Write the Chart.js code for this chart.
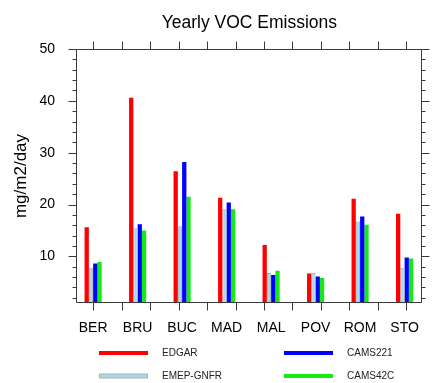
<!DOCTYPE html>
<html>
<head>
<meta charset="utf-8">
<script src="https://cdn.jsdelivr.net/npm/chart.js@4/dist/chart.umd.min.js"></script>
<style>
  html, body { margin: 0; padding: 0; background: #ffffff; }
  #wrap { width: 436px; height: 383px; }
</style>
</head>
<body>
<div id="wrap"><canvas id="chart" width="436" height="383"></canvas></div>
<script>
// Station sites
const categories = ['BER', 'BRU', 'BUC', 'MAD', 'MAL', 'POV', 'ROM', 'STO'];

// Yearly VOC emissions per inventory (mg/m2/day)
const edgar    = [15.6, 40.6, 26.4, 21.3, 12.2, 6.7, 21.1, 18.2];
const emepGnfr = [7.8, 15.4, 15.8, 19.1, 6.8, 6.8, 16.7, 7.8];
const cams221  = [8.6, 16.2, 28.2, 20.4, 6.4, 6.1, 17.7, 9.8];
const cams42c  = [8.9, 15.0, 21.5, 19.1, 7.2, 5.8, 16.1, 9.6];

// Axis ticks
const yTickValues = [10, 20, 30, 40, 50];
const yMinorValues = [2, 4, 6, 8, 12, 14, 16, 18, 22, 24, 26, 28, 32, 34, 36, 38, 42, 44, 46, 48];
const xTickValues = [0, 0.64, 1.28, 1.92, 2.56, 3.2, 3.84, 4.48, 5.12, 5.76, 6.4, 7.04];

const FONT = '"Liberation Sans", Arial, Helvetica, sans-serif';
Chart.defaults.font.family = FONT;
Chart.defaults.color = '#000000';

const seriesList = [
  { label: 'EDGAR',     values: edgar,    color: '#ff0000', edge: 'rgba(255,0,0,0)' },
  { label: 'EMEP-GNFR', values: emepGnfr, color: '#add8e6', edge: '#a3b4ba' },
  { label: 'CAMS221',   values: cams221,  color: '#0000ff', edge: 'rgba(0,0,255,0)' },
  { label: 'CAMS42C',   values: cams42c,  color: '#14eb14', edge: 'rgba(0,0,0,0)' }
];

const datasets = seriesList.map(s => ({
  label: s.label,
  data: s.values.map((v, i) => ({ x: i, y: v })),
  backgroundColor: s.color,
  borderColor: s.edge,
  borderWidth: s.label === 'EMEP-GNFR' ? 1 : 0,
  categoryPercentage: 0.385,
  barPercentage: 1.0
}));

// Title above the plot
const titlePlugin = {
  id: 'plotTitle',
  afterDraw(chart) {
    const { ctx, chartArea } = chart;
    ctx.save();
    ctx.font = '17.5px ' + FONT;
    ctx.fillStyle = '#000';
    ctx.textAlign = 'center';
    ctx.textBaseline = 'alphabetic';
    ctx.fillText('Yearly VOC Emissions', (chartArea.left + chartArea.right) / 2 + 0.5, 27.5);
    ctx.restore();
  }
};

// Box frame with outward tick marks on all four sides
const framePlugin = {
  id: 'frameTicks',
  afterDatasetsDraw(chart) {
    const { ctx, chartArea, scales } = chart;
    const L = Math.round(chartArea.left) + 0.5;
    const R = Math.round(chartArea.right) - 0.5;
    const T = Math.round(chartArea.top) + 0.5;
    const B = Math.round(chartArea.bottom) - 0.5;
    ctx.save();
    ctx.strokeStyle = '#3a3a3a';
    ctx.lineWidth = 1;
    ctx.beginPath();
    ctx.rect(L, T, R - L, B - T);
    // y major ticks
    yTickValues.forEach(v => {
      const y = Math.round(scales.y.getPixelForValue(v)) + 0.5;
      ctx.moveTo(L, y); ctx.lineTo(L - 8, y);
      ctx.moveTo(R, y); ctx.lineTo(R + 8, y);
    });
    // y minor ticks
    yMinorValues.forEach(v => {
      const y = Math.round(scales.y.getPixelForValue(v)) + 0.5;
      ctx.moveTo(L, y); ctx.lineTo(L - 4, y);
      ctx.moveTo(R, y); ctx.lineTo(R + 4, y);
    });
    // x ticks, top and bottom
    xTickValues.forEach(v => {
      const x = Math.round(scales.x.getPixelForValue(v)) + 0.5;
      ctx.moveTo(x, T); ctx.lineTo(x, T - 8);
      ctx.moveTo(x, B); ctx.lineTo(x, B + 8);
    });
    ctx.stroke();
    ctx.restore();
  }
};

// Two-column legend under the axis
const legendPlugin = {
  id: 'lineLegend',
  afterDraw(chart) {
    const { ctx } = chart;
    const cols = [{ x0: 99, x1: 148, tx: 162 }, { x0: 284, x1: 333, tx: 347 }];
    const rows = [353, 376];
    const order = [0, 2, 1, 3];
    ctx.save();
    ctx.font = '10px ' + FONT;
    ctx.textBaseline = 'middle';
    ctx.textAlign = 'left';
    order.forEach((di, k) => {
      const ds = chart.data.datasets[di];
      const c = cols[k % 2];
      const y = rows[Math.floor(k / 2)];
      if (ds.label === 'EMEP-GNFR') {
        ctx.fillStyle = '#a3b4ba';
        ctx.fillRect(c.x0, y - 2.5, c.x1 - c.x0, 5);
        ctx.fillStyle = ds.backgroundColor;
        ctx.fillRect(c.x0 + 1, y - 1.5, c.x1 - c.x0 - 2, 3);
      } else {
        ctx.fillStyle = ds.backgroundColor;
        ctx.fillRect(c.x0, y - 2, c.x1 - c.x0, 4);
      }
      ctx.fillStyle = '#222';
      ctx.fillText(ds.label, c.tx, y);
    });
    ctx.restore();
  }
};

new Chart(document.getElementById('chart'), {
  type: 'bar',
  data: { datasets },
  options: {
    responsive: false,
    animation: false,
    layout: { padding: { top: 49, right: 3, left: 0, bottom: 0 } },
    plugins: { legend: { display: false }, title: { display: false }, tooltip: { enabled: false } },
    scales: {
      x: {
        type: 'linear',
        position: 'bottom',
        min: -0.385,
        max: 7.385,
        offset: false,
        grid: { display: false, drawTicks: false, offset: false },
        border: { display: false },
        afterBuildTicks(scale) {
          scale.ticks = categories.map((c, i) => ({ value: i }));
        },
        ticks: {
          autoSkip: false,
          maxRotation: 0,
          padding: 17,
          font: { size: 14 },
          color: '#000',
          callback: (v) => categories[v]
        },
        afterFit(scale) { scale.height = 80; }
      },
      y: {
        type: 'linear',
        position: 'left',
        min: 1,
        max: 50,
        grid: { display: false, drawTicks: false },
        border: { display: false },
        afterBuildTicks(scale) {
          scale.ticks = yTickValues.map(v => ({ value: v }));
        },
        ticks: { padding: 21, font: { size: 14 }, color: '#000' },
        title: {
          display: true,
          text: 'mg/m2/day',
          font: { size: 17 },
          color: '#000',
          padding: { top: 11, bottom: 0 }
        },
        afterFit(scale) { scale.width = 76; }
      }
    }
  },
  plugins: [titlePlugin, framePlugin, legendPlugin]
});
</script>
</body>
</html>
